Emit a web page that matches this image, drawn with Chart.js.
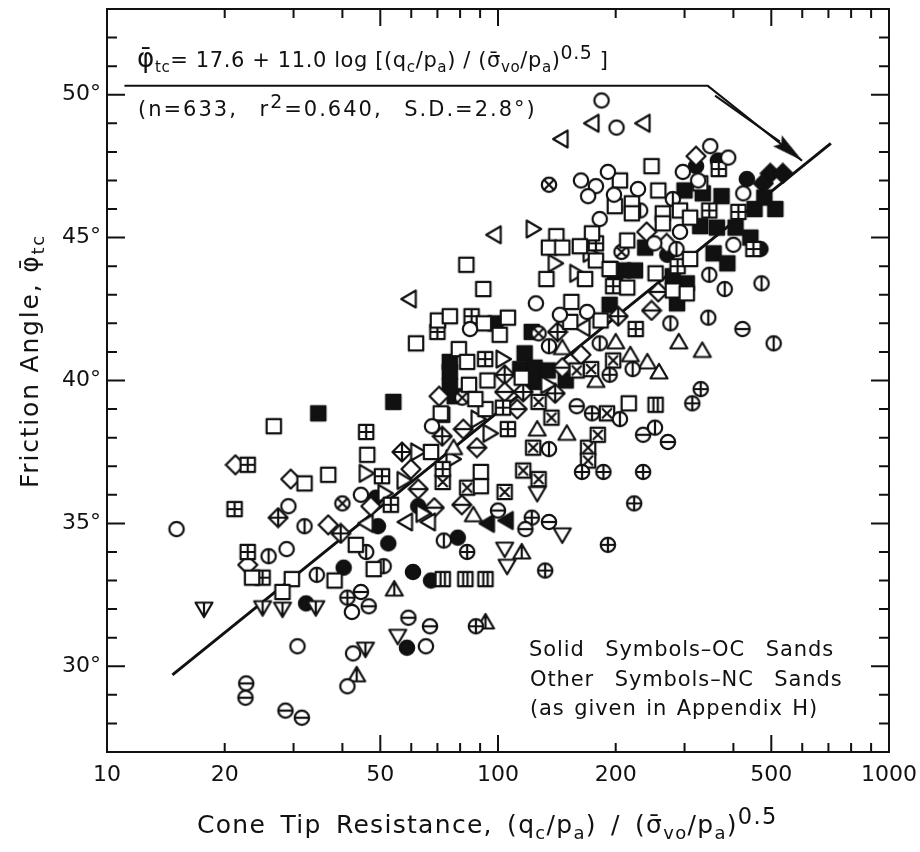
<!DOCTYPE html>
<html>
<head>
    <title>Friction Angle vs Cone Tip Resistance</title>
    <script src="https://cdn.jsdelivr.net/npm/chart.js"></script>
    <style>
        body { margin: 0; background: white; color: #111; }
        #wrap { position: relative; width: 920px; height: 852px; overflow: hidden; font-family: 'DejaVu Sans', sans-serif; }
        .note { position: absolute; white-space: nowrap; font-size: 21px; line-height: 24px; }
        sub, sup { font-size: 0.72em; line-height: 0; }
        sup { font-size: 0.9em; }
        .phi { font-size: 1.25em; }
    </style>
</head>
<body>
<div id="wrap">
    <canvas id="chart" width="920" height="852"></canvas>
    <div class="note" style="left:137px;top:46px;letter-spacing:.6px"><span class="phi">φ̄</span><sub>tc</sub>= 17.6 + 11.0 log [(q<sub>c</sub>/p<sub>a</sub>) / (σ̄<sub>vo</sub>/p<sub>a</sub>)<sup>0.5</sup> ]</div>
    <div class="note" style="left:138px;top:97px;word-spacing:13px;letter-spacing:2px">(n=633, r<sup>2</sup>=0.640, S.D.=2.8°)</div>
    <div class="note" style="left:529px;top:637px;word-spacing:13px;letter-spacing:.9px">Solid Symbols–OC Sands</div>
    <div class="note" style="left:530px;top:667px;word-spacing:13px;letter-spacing:.9px">Other Symbols–NC Sands</div>
    <div class="note" style="left:530px;top:696px;word-spacing:2px;letter-spacing:.9px">(as given in Appendix H)</div>
    <div class="note" style="left:197px;top:813px;font-size:25px;word-spacing:5px;letter-spacing:1.3px">Cone Tip Resistance, (q<sub>c</sub>/p<sub>a</sub>) / (σ̄<sub>vo</sub>/p<sub>a</sub>)<sup>0.5</sup></div>
    <div class="note" style="left:30px;top:361px;font-size:25px;letter-spacing:1.8px;transform:translate(-50%,-50%) rotate(-90deg)">Friction Angle, φ̄<sub>tc</sub></div>
</div>

<script>
    // axis ticks
    const xLabelTicks = [10, 20, 50, 100, 200, 500, 1000];
    const xMinorTicks = [20, 30, 40, 60, 70, 80, 90, 200, 300, 400, 600, 700, 800, 900];
    const xLongTicks = [50, 100, 500];
    const yLabelTicks = [30, 35, 40, 45, 50];
    const yMinorTicks = [28, 29, 31, 32, 33, 34, 36, 37, 38, 39, 41, 42, 43, 44, 46, 47, 48, 49, 51, 52];

    // regression line and the leader from the equation
    const fitLine = [[14.7, 29.7], [710, 48.3]];
    const leaderLine = [[11.08, 50.31], [344, 50.31], [599, 47.69]];
    const leaderShaft = [[359, 49.97], [526, 48.36]];
    const arrowTip = [[558, 48.04]];

    // points, one list per symbol
    const circleOpen = [[15.06,34.8],[28.8,34.1],[29.1,35.6],[30.7,30.7],[42.3,31.9],[42.6,30.45],[41.2,29.3],[65.4,30.7],[44.6,36],[67.8,38.4],[84.8,41.8],[125,42.7],[144,42.3],[169,42.4],[184,49.8],[201,48.85],[163,47],[191,47.3],[178,46.8],[170,46.45],[198,46.5],[228,46.7],[182,45.65],[251,44.8],[292,45.2],[400,44.75],[349,48.2],[297,47.3],[388,47.8],[424,46.55],[325,47]];
    const circleVline = [[32,34.9],[25.9,33.85],[34.4,33.2],[46,34],[51,33.5],[72.7,34.4],[135,37.6],[135,41.2],[182,41.3],[221,40.4],[276,42],[252,38.35],[205,38.65],[347,43.7],[380,43.2],[472,43.4],[345,42.2],[507,41.3],[280,46.35],[231,45.95],[286,44.6]];
    const circleHline = [[44.6,32.6],[46.7,32.1],[59,31.7],[67,31.4],[22.7,29.4],[22.6,28.9],[28.6,28.45],[31.5,28.2],[100,35.45],[135,35.05],[117.5,34.8],[159,39.1],[235,38.1],[272,37.85],[422,41.8]];
    const circlePlus = [[41.2,32.4],[83.4,34],[87.8,31.4],[164,36.8],[186,36.8],[235,36.8],[223,35.7],[191,34.25],[132,33.35],[122,35.2],[193,40.2],[174,38.85],[314,39.2],[330,39.7]];
    const circleCross = [[40,35.7],[81,39.4],[127,41.65],[135,46.85],[207,44.5]];
    const circleSolid = [[32.3,32.2],[40.3,33.45],[49.3,34.9],[52.4,34.3],[60.6,33.3],[67.4,33],[58.5,30.65],[48.7,35.9],[62.5,35.6],[78.9,34.5],[321,47.5],[365,47.7],[433,47.05],[469,44.6],[271,44.4]];
    const squareOpen = [[26.7,38.4],[46.3,37.4],[36.8,36.7],[32,36.4],[67.4,37.5],[72,38.8],[90.4,36.8],[90.4,36.3],[92.9,39],[43.3,34.25],[23.5,33.1],[29.7,33.05],[28.1,32.6],[38.2,33],[48.1,33.4],[83,44.05],[91.7,43.2],[133,43.55],[61.7,41.3],[70.2,42.1],[75.3,42.25],[92,42],[106,42.2],[101,41.6],[79.4,41.1],[83.4,40.65],[94,40],[84.3,39.85],[87.5,39.35],[71.4,38.85],[154,42.75],[153,42.05],[183,42.1],[115,40.1],[216,39.2],[194,43.9],[214,43.25],[253,43.75],[167,43.55],[280,43.15],[304,43.05],[205,47],[247,47.5],[257,46.65],[199,46.1],[220,46.2],[220,45.85],[264,45.85],[264,45.5],[292,45.95],[310,45.7],[174,45.15],[141,45.05],[135,44.65],[146,44.65],[162,44.7],[214,44.9],[178,44.2],[193,43.9],[329,46.9],[310,44.25]];
    const squareGrid = [[21.2,35.5],[22.9,34],[25,33.1],[22.9,37.05],[46,38.2],[50.5,36.65],[53.2,35.65],[72.2,36.9],[103,39.05],[70,41.7],[85.6,42.25],[92.7,40.75],[197,43.3],[225,41.8],[106,38.3],[178,44.8],[367,47.4],[412,45.9],[450,44.6],[347,45.95],[288,44]];
    const squareCross = [[72.2,36.45],[83.4,36.25],[104,36.1],[116,36.85],[127,36.55],[123,37.65],[170,37.65],[170,37.2],[180,38.1],[197,40.7],[159,40.35],[173,40.4],[127,39.25],[137,38.7],[190,38.85]];
    const squareBars = [[72.2,33.05],[82.5,33.05],[92.9,33.05],[253,39.15]];
    const squareSolid = [[34.7,38.85],[54,39.25],[122,41.7],[98.5,42],[75.3,40.65],[75.3,40.3],[75.3,39.8],[77.5,39.45],[117,40.95],[114,40.4],[124,40.45],[124,39.95],[134,40.35],[149,40],[193,42.65],[209,43.85],[224,43.85],[304,43.4],[287,42.7],[300,46.65],[334,46.55],[373,46.45],[453,46],[512,46],[480,46.4],[329,45.4],[363,45.35],[405,45.35],[442,45],[356,44.45],[386,44.1],[280,43.65],[199,43.6],[238,44.65]];
    const triUpOpen = [[77,37.65],[86.5,35.3],[200,41.35],[146,41.15],[290,41.35],[218,40.9],[241,40.65],[258,40.3],[178,40],[126,38.3],[150,38.15],[333,41.05]];
    const triUpVline = [[54.3,32.7],[43.5,29.7],[92.9,31.55],[115,34]];
    const triDownOpen = [[55.4,31.05],[126,36.05],[146,34.6],[104,34.1],[105.5,33.5]];
    const triDownVline = [[17.7,32],[25,32.05],[28.1,32],[34.2,32.05],[45.8,30.6]];
    const triLeftOpen = [[58,35.05],[66.4,35.05],[46,35],[59.3,42.85],[97.8,45.1],[145,48.45],[174,49],[235,49],[165,41.85]];
    const triLeftSolid = [[94,35],[105,35.1]];
    const triRightOpen = [[62.3,37.5],[46,36.75],[57.5,36.5],[51.4,36.05],[88.9,38.65],[95.4,38.15],[76.7,37.25],[64.3,35.35],[103,40.75],[134,39.85],[123,45.3],[140,44.1],[159,43.75],[172,44.45]];
    const diamondOpen = [[21.3,37.05],[29.5,36.55],[36.8,34.95],[59.9,36.9],[22.9,33.55],[47.3,35.6],[70.7,39.45],[163,40.9],[321,47.85],[240,45.2],[270,44.8]];
    const diamondHline = [[81.5,38.3],[88.3,37.65],[62.5,36.2],[68.7,35.55],[80.8,35.65],[146,40.45],[257,43.1],[247,42.45],[104,39.6],[112,39]];
    const diamondPlus = [[56.8,37.5],[27.4,35.2],[72,38.05],[39.6,34.65],[142,41.7],[203,42.25],[104,40.2],[116,39.6],[140,39.55]];
    const diamondSolid = [[497,47.25],[535,47.25],[477,46.9]];

    // symbol sprites, outline plus an optional inner mark
    function makeMarker(shape, inner, solid) {
        const c = document.createElement('canvas');
        c.width = c.height = 22;
        const g = c.getContext('2d');
        g.translate(11, 11);
        g.lineWidth = 2.2;
        g.lineJoin = 'round';
        g.strokeStyle = '#111';
        g.fillStyle = solid ? '#111' : '#fff';
        g.beginPath();
        if (shape === 'circle') g.arc(0, 0, 7.2, 0, Math.PI * 2);
        if (shape === 'square') g.rect(-7.2, -7.2, 14.4, 14.4);
        if (shape === 'diamond') { g.moveTo(0, -9.5); g.lineTo(9.5, 0); g.lineTo(0, 9.5); g.lineTo(-9.5, 0); g.closePath(); }
        if (shape === 'up') { g.moveTo(0, -8); g.lineTo(8.5, 6.5); g.lineTo(-8.5, 6.5); g.closePath(); }
        if (shape === 'down') { g.moveTo(0, 8); g.lineTo(8.5, -6.5); g.lineTo(-8.5, -6.5); g.closePath(); }
        if (shape === 'left') { g.moveTo(-8, 0); g.lineTo(6.5, -8.5); g.lineTo(6.5, 8.5); g.closePath(); }
        if (shape === 'right') { g.moveTo(8, 0); g.lineTo(-6.5, -8.5); g.lineTo(-6.5, 8.5); g.closePath(); }
        g.fill();
        g.stroke();
        g.beginPath();
        const r = shape === 'diamond' ? 9 : 7;
        if (inner === 'v' || inner === 'plus') { g.moveTo(0, -r); g.lineTo(0, r); }
        if (inner === 'h' || inner === 'plus') { g.moveTo(-r, 0); g.lineTo(r, 0); }
        if (inner === 'x') { g.moveTo(-5, -5); g.lineTo(5, 5); g.moveTo(5, -5); g.lineTo(-5, 5); }
        if (inner === 'bars') { g.moveTo(-2.2, -7); g.lineTo(-2.2, 7); g.moveTo(2.2, -7); g.lineTo(2.2, 7); }
        g.stroke();
        return c;
    }

    function makeArrowHead() {
        const c = document.createElement('canvas');
        c.width = 16;
        c.height = 32;
        const g = c.getContext('2d');
        g.fillStyle = '#111';
        g.beginPath();
        g.moveTo(8, 0);
        g.lineTo(15, 32);
        g.lineTo(8, 27);
        g.lineTo(1, 32);
        g.closePath();
        g.fill();
        return c;
    }

    const symbol = (data, shape, inner, solid) => ({
        data,
        pointStyle: makeMarker(shape, inner, solid),
        pointRadius: 8,
        showLine: false
    });
    const rule = (data, width) => ({ data, showLine: true, pointRadius: 0, borderColor: '#111', borderWidth: width });

    // first dataset is painted last, so solids sit under the open symbols
    const datasets = [
        rule(leaderLine, 2),
        rule(leaderShaft, 2),
        { data: arrowTip, pointStyle: makeArrowHead(), pointRadius: 8, pointRotation: 128.6, showLine: false },
        symbol(circleOpen, 'circle'),
        symbol(squareOpen, 'square'),
        symbol(circleVline, 'circle', 'v'),
        symbol(circleHline, 'circle', 'h'),
        symbol(circlePlus, 'circle', 'plus'),
        symbol(circleCross, 'circle', 'x'),
        symbol(squareGrid, 'square', 'plus'),
        symbol(squareCross, 'square', 'x'),
        symbol(squareBars, 'square', 'bars'),
        symbol(triUpOpen, 'up'),
        symbol(triUpVline, 'up', 'v'),
        symbol(triDownOpen, 'down'),
        symbol(triDownVline, 'down', 'v'),
        symbol(triLeftOpen, 'left'),
        symbol(triRightOpen, 'right'),
        symbol(diamondOpen, 'diamond'),
        symbol(diamondHline, 'diamond', 'h'),
        symbol(diamondPlus, 'diamond', 'plus'),
        symbol(triLeftSolid, 'left', null, true),
        symbol(circleSolid, 'circle', null, true),
        symbol(squareSolid, 'square', null, true),
        symbol(diamondSolid, 'diamond', null, true),
        rule(fitLine, 3)
    ];

    // frame with inward ticks on all four sides
    const framePlugin = {
        id: 'frame',
        afterDatasetsDraw(chart) {
            const { ctx, chartArea: a, scales: { x, y } } = chart;
            ctx.save();
            ctx.strokeStyle = '#111';
            ctx.lineWidth = 2;
            ctx.strokeRect(a.left, a.top, a.right - a.left, a.bottom - a.top);
            ctx.beginPath();
            const xTick = (v, len) => {
                const p = x.getPixelForValue(v);
                ctx.moveTo(p, a.bottom); ctx.lineTo(p, a.bottom - len);
                ctx.moveTo(p, a.top); ctx.lineTo(p, a.top + len);
            };
            const yTick = (v, len) => {
                const p = y.getPixelForValue(v);
                ctx.moveTo(a.left, p); ctx.lineTo(a.left + len, p);
                ctx.moveTo(a.right, p); ctx.lineTo(a.right - len, p);
            };
            xMinorTicks.forEach(v => xTick(v, 9));
            xLongTicks.forEach(v => xTick(v, 17));
            yMinorTicks.forEach(v => yTick(v, 10));
            yLabelTicks.forEach(v => yTick(v, 18));
            ctx.stroke();
            ctx.restore();
        }
    };

    const tickFont = { family: 'DejaVu Sans', size: 22 };

    new Chart(document.getElementById('chart'), {
        type: 'scatter',
        data: { datasets },
        plugins: [framePlugin],
        options: {
            responsive: false,
            animation: false,
            layout: { padding: { top: 8, right: 31, left: 0, bottom: 0 } },
            plugins: { legend: { display: false }, tooltip: { enabled: false } },
            scales: {
                x: {
                    type: 'logarithmic',
                    min: 10,
                    max: 1000,
                    grid: { display: false, drawTicks: false },
                    border: { display: false },
                    afterBuildTicks: s => { s.ticks = xLabelTicks.map(value => ({ value })); },
                    afterFit: s => { s.height = 100; s.paddingLeft = 0; s.paddingRight = 0; },
                    ticks: {
                        color: '#111',
                        font: tickFont,
                        padding: 10,
                        autoSkip: false,
                        maxRotation: 0,
                        callback: v => String(v)
                    }
                },
                y: {
                    min: 27,
                    max: 53,
                    grid: { display: false, drawTicks: false },
                    border: { display: false },
                    afterBuildTicks: s => { s.ticks = yLabelTicks.map(value => ({ value })); },
                    afterFit: s => { s.width = 107; s.paddingTop = 0; s.paddingBottom = 0; },
                    ticks: {
                        color: '#111',
                        font: tickFont,
                        padding: 6,
                        autoSkip: false,
                        callback: v => v + '°'
                    }
                }
            }
        }
    });
</script>
</body>
</html>
